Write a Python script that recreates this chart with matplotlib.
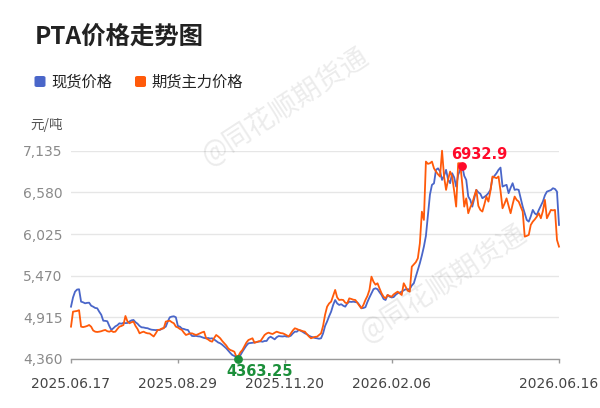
import matplotlib
matplotlib.use("Agg")
import matplotlib.pyplot as plt
from matplotlib.patches import FancyBboxPatch

plt.rcParams['font.family'] = ['DejaVu Sans', 'Noto Sans CJK SC']

title = "PTA价格走势图"
unit = "元/吨"
series_names = ["现货价格", "期货主力价格"]
tick_labels = ["2025.06.17", "2025.08.29", "2025.11.20", "2026.02.06", "2026.06.16"]
tick_index = [0, 53, 106, 159, 242]
y_ticks = [4360, 4915, 5470, 6025, 6580, 7135]

spot = [
    5057, 5180, 5257, 5285, 5289, 5124, 5115, 5102, 5108, 5110,
    5070, 5057, 5040, 5036, 4990, 4950, 4870, 4868, 4863, 4800,
    4747, 4770, 4795, 4810, 4836, 4830, 4842, 4838, 4840, 4860,
    4875, 4880, 4850, 4830, 4800, 4782, 4780, 4773, 4770, 4758,
    4750, 4747, 4745, 4748, 4747, 4760, 4775, 4791, 4860, 4916,
    4925, 4929, 4916, 4800, 4791, 4765, 4760, 4750, 4747, 4700,
    4667, 4665, 4668, 4662, 4660, 4650, 4640, 4636, 4640, 4632,
    4636, 4620, 4600, 4580, 4569, 4550, 4525, 4502, 4470, 4440,
    4413, 4400, 4385, 4363.25, 4410, 4457, 4500, 4540, 4569, 4572,
    4576, 4580, 4585, 4591, 4595, 4590, 4600, 4600, 4640, 4657,
    4640, 4622, 4650, 4666, 4662, 4660, 4665, 4658, 4660, 4670,
    4700, 4724, 4724, 4747, 4735, 4720, 4702, 4690, 4670, 4657,
    4650, 4640, 4636, 4630, 4636, 4700, 4800, 4860, 4930, 4991,
    5080, 5146, 5100, 5080, 5090, 5070, 5057, 5100, 5124, 5120,
    5124, 5118, 5113, 5080, 5036, 5040, 5050, 5120, 5180, 5236,
    5290, 5302, 5290, 5250, 5213, 5160, 5146, 5213, 5190, 5180,
    5185, 5215, 5236, 5245, 5257, 5275, 5290, 5288, 5290, 5340,
    5369, 5457, 5540, 5636, 5740, 5857, 6000, 6280, 6550, 6680,
    6700, 6880, 6900, 6860, 6746, 6800, 6880, 6750, 6702, 6835,
    6780, 6657, 6813, 6880, 6932.9, 6800, 6746, 6524, 6480, 6390,
    6500, 6613, 6580, 6560, 6502, 6520, 6540, 6570, 6613, 6769,
    6800, 6835, 6880, 6910, 6657, 6670, 6680, 6569, 6640, 6702,
    6613, 6620, 6613, 6500, 6390, 6300, 6213, 6190, 6260, 6346,
    6300, 6280, 6346, 6400, 6457, 6540, 6590, 6600, 6610, 6635,
    6625, 6590, 6146,
]

futures = [
    4791, 4991, 4995, 5000, 5010, 4791, 4785, 4791, 4800, 4813,
    4790, 4740, 4724, 4720, 4724, 4730, 4740, 4747, 4730, 4724,
    4735, 4720, 4724, 4760, 4791, 4800, 4813, 4933, 4860, 4836,
    4850, 4858, 4800, 4760, 4702, 4715, 4724, 4710, 4702, 4700,
    4680, 4660, 4700, 4747, 4750, 4765, 4769, 4858, 4865, 4870,
    4850, 4836, 4791, 4780, 4760, 4747, 4710, 4680, 4690, 4700,
    4702, 4690, 4680, 4690, 4702, 4715, 4724, 4636, 4620, 4600,
    4591, 4640, 4680, 4660, 4636, 4600, 4569, 4540, 4500, 4480,
    4470, 4457, 4391, 4400, 4450, 4480, 4530, 4580, 4613, 4625,
    4636, 4576, 4585, 4595, 4600, 4640, 4680, 4700, 4711, 4700,
    4693, 4710, 4724, 4715, 4705, 4702, 4690, 4675, 4660, 4700,
    4740, 4769, 4760, 4747, 4740, 4730, 4724, 4690, 4660, 4636,
    4645, 4655, 4657, 4680, 4702, 4800, 4950, 5057, 5100, 5124,
    5200, 5280, 5180, 5146, 5150, 5146, 5110, 5102, 5168, 5160,
    5150, 5146, 5110, 5070, 5036, 5080, 5146, 5200, 5280, 5457,
    5390, 5350, 5369, 5300, 5236, 5190, 5168, 5213, 5200, 5190,
    5220, 5240, 5257, 5235, 5213, 5369, 5320, 5270, 5257, 5590,
    5620, 5650, 5702, 5900, 6323, 6213, 6990, 6960, 6968, 6990,
    6900, 6857, 6820, 6790, 7135, 6790, 6613, 6750, 6857, 6790,
    6600, 6390, 6968, 6968, 6700, 6390, 6500, 6302, 6380, 6435,
    6530, 6613, 6400, 6346, 6324, 6420, 6524, 6457, 6600, 6791,
    6780, 6769, 6791, 6600, 6368, 6430, 6500, 6400, 6302, 6420,
    6524, 6480, 6457, 6390, 6324, 5990, 6000, 6013, 6146, 6190,
    6220, 6257, 6302, 6235, 6330, 6480, 6235, 6290, 6346, 6340,
    6346, 5946, 5857,
]

BLUE = "#4a66c9"
ORANGE = "#ff5a0a"

W, H = 600, 408
fig = plt.figure(figsize=(W / 100, H / 100), dpi=100)

def fx(px):
    return px / W

def fy(py):
    return 1 - py / H

ax = fig.add_axes([fx(71), fy(359), fx(559) - fx(71), fy(150.7) - fy(359)])

x = list(range(len(spot)))
ax.plot(x, spot, color=BLUE, lw=1.3, clip_on=False, zorder=3)
ax.plot(x, futures, color=ORANGE, lw=1.3, clip_on=False, zorder=4)

ax.set_xlim(0, len(spot) - 1)
ax.set_ylim(y_ticks[0], y_ticks[-1])
ax.set_yticks(y_ticks)
ax.set_yticklabels([f"{v:,}" for v in y_ticks])
ax.set_xticks(tick_index)
ax.set_xticklabels(tick_labels)

ax.grid(axis='y', color="#e6e6e6", lw=1)
ax.set_axisbelow(True)
for s in ['left', 'right', 'top']:
    ax.spines[s].set_visible(False)
ax.spines['bottom'].set_color("#9a9a9a")
ax.spines['bottom'].set_linewidth(1)
ax.tick_params(axis='y', length=0, pad=6, labelsize=10, labelcolor="#8a8a8a")
ax.tick_params(axis='x', length=3, width=1, color="#9a9a9a", pad=10,
               labelsize=10, labelcolor="#444444")

# extreme markers on spot series
imax = max(range(len(spot)), key=lambda i: spot[i])
imin = min(range(len(spot)), key=lambda i: spot[i])
ax.scatter([imax], [spot[imax]], s=28, color="#ff0a2a", zorder=6, clip_on=False)
ax.scatter([imin], [spot[imin]], s=28, color="#1b8f3a", zorder=6, clip_on=False)
ax.annotate(f"{spot[imax]}", (imax, spot[imax]), xytext=(12.5, 8.5),
            textcoords='offset points', ha='center', va='center',
            color="#ff0a2a", fontsize=10.5, fontweight='bold', annotation_clip=False)
ax.annotate(f"{spot[imin]}", (imin, spot[imin]), xytext=(15.5, -9.5),
            textcoords='offset points', ha='center', va='center',
            color="#1b8f3a", fontsize=10.5, fontweight='bold', annotation_clip=False)

# title, legend, unit
fig.text(fx(35), fy(38), title, fontsize=17.6, fontweight='bold', color="#222222",
         family=['Noto Sans CJK SC', 'DejaVu Sans'], ha='left', va='center')

for (x0, color, label, tx) in [(34.5, BLUE, series_names[0], 51.5),
                               (135, ORANGE, series_names[1], 151.5)]:
    p = FancyBboxPatch((fx(x0), fy(87)), fx(11), fy(76) - fy(87),
                       boxstyle="round,pad=0,rounding_size=0.004",
                       transform=fig.transFigure, facecolor=color, edgecolor='none')
    fig.patches.append(p)
    fig.text(fx(tx), fy(82), label, fontsize=11, color="#222222",
             family=['Noto Sans CJK SC', 'DejaVu Sans'], ha='left', va='center')

fig.text(fx(30.5), fy(125), unit, fontsize=9.8, color="#555555",
         family=['Noto Sans CJK SC', 'DejaVu Sans'], ha='left', va='center')

# watermarks
for (cx, cy) in [(285, 106), (443, 283)]:
    fig.text(fx(cx), fy(cy), "@同花顺期货通", fontsize=20, color="#000000", alpha=0.08,
             rotation=33, rotation_mode='anchor', ha='center', va='center',
             family=['Noto Sans CJK SC', 'DejaVu Sans'], zorder=10)

fig.savefig("out.png", dpi=100)
